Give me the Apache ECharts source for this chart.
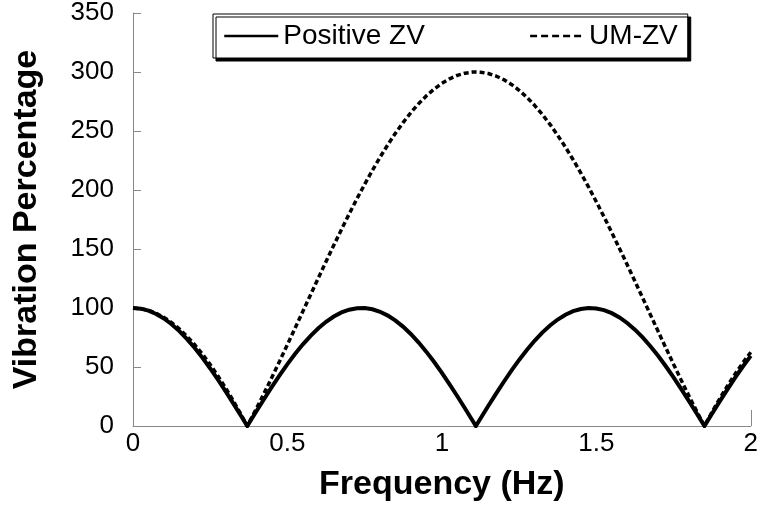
<!DOCTYPE html>
<html>
<head>
<meta charset="utf-8">
<script src="https://cdn.jsdelivr.net/npm/echarts@6/dist/echarts.min.js"></script>
<style>
html,body{margin:0;padding:0;background:#fff;}
#chart{width:761px;height:510px;}
</style>
</head>
<body>
<div id="chart"></div>
<script>
// Frequency (Hz)
var freq = [0,0.025,0.05,0.075,0.1,0.125,0.15,0.175,0.2,0.225,0.25,0.275,0.3,0.325,0.35,0.37,
  0.375,0.4,0.425,0.45,0.475,0.5,0.525,0.55,0.575,0.6,0.625,0.65,0.675,0.7,0.725,0.75,0.775,0.8,0.825,0.85,0.875,0.9,0.925,0.95,0.975,1,1.025,1.05,1.075,1.1,1.11,
  1.125,1.15,1.175,1.2,1.225,1.25,1.275,1.3,1.325,1.35,1.375,1.4,1.425,1.45,1.475,1.5,1.525,1.55,1.575,1.6,1.625,1.65,1.675,1.7,1.725,1.75,1.775,1.8,1.825,1.85,1.875,1.9,1.925,1.95,1.975,2];

// Vibration percentage, Positive ZV
var positiveZV = [100,99.44,97.76,94.97,91.12,86.25,80.40,73.65,66.07,57.75,48.77,39.25,29.29,18.99,8.48,0,
  2.12,12.70,23.14,33.31,43.12,52.43,61.16,69.20,76.45,82.85,88.32,92.79,96.22,98.56,99.80,99.91,98.90,96.78,93.56,89.29,84.02,77.80,70.71,62.82,54.23,45.02,35.31,25.20,14.81,4.24,0,
  6.36,16.90,27.25,37.29,46.91,56.00,64.46,72.20,79.12,85.15,90.23,94.29,97.29,99.19,99.98,99.64,98.18,95.62,91.98,87.30,81.64,75.07,67.65,59.46,50.61,41.19,31.31,21.07,10.59,0,10.59,21.07,31.31,41.19,50.61,59.46];

// Vibration percentage, UM-ZV
var umZV = [100,99.50,98.00,95.51,92.04,87.62,82.25,75.97,68.81,60.80,51.99,42.42,32.13,21.19,9.64,0,
  2.45,15.05,28.06,41.43,55.10,68.99,83.04,97.17,111.31,125.40,139.36,153.13,166.63,179.79,192.56,204.87,216.64,227.83,238.39,248.25,257.37,265.70,273.21,279.84,285.58,290.39,294.24,297.13,299.02,299.92,300,
  299.82,298.72,296.63,293.56,289.50,284.50,278.58,271.77,264.10,255.61,246.33,236.33,225.64,214.33,202.44,190.04,177.19,163.96,150.40,136.59,122.59,108.49,94.34,80.22,66.20,52.35,38.73,25.42,12.50,0,11.99,23.43,34.25,44.39,53.81,62.47];

var seriesNames = ['Positive ZV', 'UM-ZV'];
var xTitle = 'Frequency (Hz)';
var yTitle = 'Vibration Percentage';

function pairs(ys){ return freq.map(function(f,i){ return [f, ys[i]]; }); }

var FONT = "'Liberation Sans', Arial, sans-serif";
var chart = echarts.init(document.getElementById('chart'), null, {renderer:'canvas'});
chart.setOption({
  animation:false,
  backgroundColor:'#fff',
  textStyle:{fontFamily:FONT},
  grid:{left:133, right:10, top:13, bottom:84, containLabel:false},
  legend:{
    left:213, top:14,
    padding:[8,10,8,10],
    itemWidth:54, itemHeight:14, itemGap:104,
    backgroundColor:'#fff', borderColor:'#000', borderWidth:1,
    shadowColor:'#000', shadowBlur:0, shadowOffsetX:3, shadowOffsetY:3,
    textStyle:{fontSize:28, color:'#000', fontFamily:FONT},
    data:[
      {name:seriesNames[0], itemStyle:{opacity:0, borderWidth:0}, lineStyle:{width:2.5, type:'solid', color:'#000', opacity:1}},
      {name:seriesNames[1], itemStyle:{opacity:0, borderWidth:0}, lineStyle:{width:2.5, type:[7,4], color:'#000', opacity:1}}
    ]
  },
  xAxis:[{
    type:'value', min:0, max:2, interval:0.5,
    name:xTitle, nameLocation:'middle', nameGap:42,
    nameTextStyle:{fontSize:34, fontWeight:'bold', color:'#000', fontFamily:FONT},
    axisLine:{show:true, lineStyle:{color:'#888', width:1}},
    axisTick:{show:false},
    axisLabel:{fontSize:26, color:'#000', margin:5, fontFamily:FONT,
      formatter:function(v){ return String(v); }},
    splitLine:{show:false}
  },{
    type:'value', min:0, max:2, interval:2, position:'bottom',
    axisLine:{show:false},
    axisTick:{show:true, inside:true, length:16, lineStyle:{color:'#888', width:1}},
    axisLabel:{show:false},
    splitLine:{show:false}
  }],
  yAxis:{
    type:'value', min:0, max:350, interval:50,
    name:yTitle, nameLocation:'middle', nameGap:89, nameRotate:90,
    nameTextStyle:{fontSize:34, fontWeight:'bold', color:'#000', fontFamily:FONT},
    axisLine:{show:true, lineStyle:{color:'#888', width:1}},
    axisTick:{show:true, inside:true, length:8, lineStyle:{color:'#888', width:1}},
    axisLabel:{fontSize:26, color:'#000', margin:19, fontFamily:FONT},
    splitLine:{show:false}
  },
  series:[
    {name:seriesNames[0], type:'line', xAxisIndex:0, data:pairs(positiveZV), symbol:'none', showSymbol:false,
     lineStyle:{color:'#000', width:4, type:'solid', join:'miter'}, itemStyle:{color:'#000'}, z:3},
    {name:seriesNames[1], type:'line', xAxisIndex:0, data:pairs(umZV), symbol:'none', showSymbol:false,
     lineStyle:{color:'#000', width:3.5, type:[5,3]}, itemStyle:{color:'#000'}, z:2}
  ]
});
</script>
</body>
</html>
